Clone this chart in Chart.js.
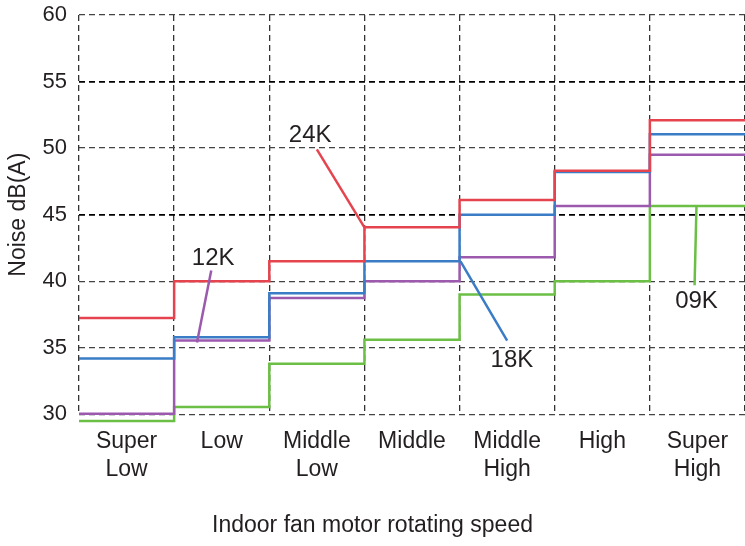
<!DOCTYPE html>
<html>
<head>
<meta charset="utf-8">
<script src="https://cdn.jsdelivr.net/npm/chart.js@4.4.1/dist/chart.umd.min.js"></script>
<style>
  body { margin: 0; background: #fff; }
  canvas { display: block; }
</style>
</head>
<body>
<canvas id="chart" width="745" height="546"></canvas>
<script>
// fan speed steps
let speeds = [['Super', 'Low'], 'Low', ['Middle', 'Low'], 'Middle', ['Middle', 'High'], 'High', ['Super', 'High']];

// noise per model, dB(A)
let noise24K = [37.25, 40.0, 41.5, 44.05, 46.1, 48.3, 52.1];
let noise18K = [34.2, 35.8, 39.1, 41.5, 45.0, 48.2, 51.05];
let noise12K = [30.05, 35.55, 38.75, 40.0, 41.8, 45.65, 49.5];
let noise09K = [29.5, 30.55, 33.8, 35.6, 39.0, 40.0, 45.65];

let yTicks = [30, 35, 40, 45, 50, 55, 60];

let fontName = '"Liberation Sans", Arial, sans-serif';
let textColor = '#231f20';

// step line: every speed spans from i to i+1 on the hidden axis
function steps(values) {
  let pts = values.map((v, i) => ({ x: i, y: v }));
  pts.push({ x: values.length, y: values[values.length - 1] });
  return pts;
}

let series = [
  { label: '24K', data: noise24K, color: '#e5444f' },
  { label: '18K', data: noise18K, color: '#3a7dc6' },
  { label: '12K', data: noise12K, color: '#9c5aae' },
  { label: '09K', data: noise09K, color: '#6cbf45' }
];

// callout labels, in axis units (x2 = speed step, y = dB)
let callouts = [
  { text: '24K', color: '#e5444f', from: [2.50, 49.9], to: [3.0, 44.05], at: [2.43, 50.95] },
  { text: '12K', color: '#9c5aae', from: [1.39, 40.8], to: [1.24, 35.4], at: [1.41, 41.75] },
  { text: '18K', color: '#3a7dc6', from: [4.01, 41.5], to: [4.50, 35.55], at: [4.55, 34.05] },
  { text: '09K', color: '#6cbf45', from: [6.49, 45.65], to: [6.47, 39.7], at: [6.49, 38.5] }
];

let calloutPlugin = {
  id: 'callouts',
  afterDatasetsDraw(chart) {
    let ctx = chart.ctx;
    let sx = chart.scales.x2;
    let sy = chart.scales.y;
    ctx.save();
    callouts.forEach(c => {
      ctx.strokeStyle = c.color;
      ctx.lineWidth = 2.5;
      ctx.beginPath();
      ctx.moveTo(sx.getPixelForValue(c.from[0]), sy.getPixelForValue(c.from[1]));
      ctx.lineTo(sx.getPixelForValue(c.to[0]), sy.getPixelForValue(c.to[1]));
      ctx.stroke();
      ctx.fillStyle = textColor;
      ctx.font = '24px ' + fontName;
      ctx.textAlign = 'center';
      ctx.textBaseline = 'middle';
      ctx.fillText(c.text, sx.getPixelForValue(c.at[0]), sy.getPixelForValue(c.at[1]));
    });
    ctx.restore();
  }
};

let graphEl = document.getElementById('chart');

let graph = new Chart(graphEl, {
  type: 'line',
  data: {
    labels: speeds,
    datasets: series.map(s => ({
      label: s.label,
      data: steps(s.data),
      xAxisID: 'x2',
      borderColor: s.color,
      borderWidth: 2.5,
      pointRadius: 0,
      stepped: 'before',
      fill: false,
      clip: false
    }))
  },
  options: {
    responsive: false,
    animation: false,
    devicePixelRatio: 1,
    layout: { padding: { top: 15, right: 0, bottom: 0, left: 0 } },
    plugins: {
      legend: { display: false },
      tooltip: { enabled: false },
      // x title centred on the whole canvas, as in the original
      title: {
        display: true,
        position: 'bottom',
        text: 'Indoor fan motor rotating speed',
        color: textColor,
        font: { size: 23, family: fontName, weight: 'normal' },
        padding: { top: 0, bottom: 7 }
      }
    },
    scales: {
      x: {
        type: 'category',
        offset: true,
        grid: { offset: true, color: '#333', lineWidth: 1.3, drawTicks: false },
        border: { display: false, dash: [6, 4] },
        ticks: { color: textColor, font: { size: 23, family: fontName, lineHeight: 1.22 }, padding: 13, maxRotation: 0 },
        afterFit(scale) { scale.height = 97; scale.paddingLeft = 0; scale.paddingRight = 0; }
      },
      x2: {
        type: 'linear',
        display: false,
        min: 0,
        max: speeds.length
      },
      y: {
        min: 30,
        max: 60,
        afterBuildTicks(scale) { scale.ticks = yTicks.map(v => ({ value: v })); },
        grid: {
          color: ctx => (ctx.tick && (ctx.tick.value === 45 || ctx.tick.value === 55)) ? '#000' : '#444',
          lineWidth: ctx => (ctx.tick && (ctx.tick.value === 45 || ctx.tick.value === 55)) ? 1.8 : 1.3,
          drawTicks: false
        },
        border: { display: false, dash: [6, 4] },
        ticks: { color: textColor, font: { size: 22, family: fontName }, padding: 12 },
        title: { display: true, text: 'Noise dB(A)', color: textColor,
                 font: { size: 23, family: fontName }, padding: { top: 5, bottom: 2 } },
        afterFit(scale) { scale.width = 79; scale.paddingTop = 0; scale.paddingBottom = 0; }
      }
    }
  },
  plugins: [calloutPlugin]
});
</script>
</body>
</html>
